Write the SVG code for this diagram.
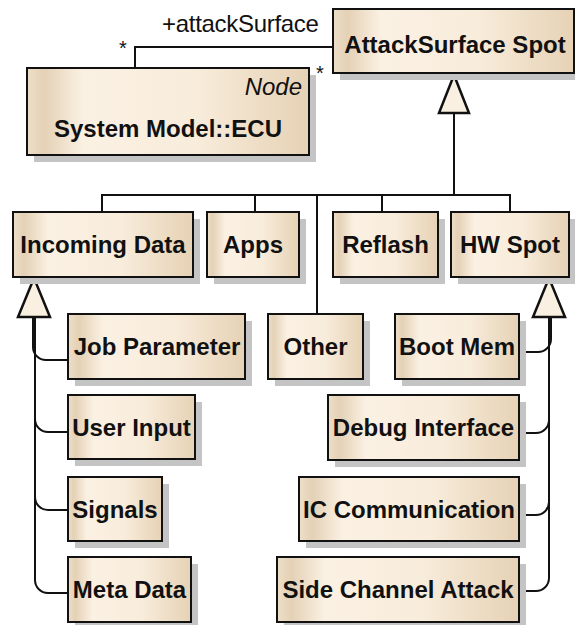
<svg xmlns="http://www.w3.org/2000/svg" width="575" height="625" viewBox="0 0 575 625">
<defs>
<linearGradient id="fill" x1="0" y1="0" x2="1" y2="0">
<stop offset="0" stop-color="#eddfc8"/>
<stop offset="0.06" stop-color="#e4d1b6"/>
<stop offset="0.2" stop-color="#fbf1e3"/>
<stop offset="0.6" stop-color="#f8ecdb"/>
<stop offset="1" stop-color="#e6d2b5"/>
</linearGradient>
</defs>
<style>
.box{fill:url(#fill);stroke:#111;stroke-width:2}
.sh{fill:#c4c4c4}
.t{font-family:"Liberation Sans",Arial,sans-serif;font-weight:bold;font-size:24px;fill:#111;text-anchor:middle}
.n{font-family:"Liberation Sans",Arial,sans-serif;font-size:24px;fill:#111}
.i{font-family:"Liberation Sans",Arial,sans-serif;font-style:italic;font-size:24px;fill:#111;text-anchor:end}
.c{fill:none;stroke:#111;stroke-width:2}
.tri{fill:#faf0e2;stroke:#111;stroke-width:2.5;stroke-linejoin:miter}
</style>
<g id="connectors">
<path class="c" d="M135,68 V47 H333"/>
<text class="n" x="162" y="32" style="letter-spacing:-0.3px">+attackSurface</text>
<text class="n" x="119" y="55" style="font-size:20px">*</text>
<text class="n" x="316" y="80" style="font-size:20px">*</text>
<path class="c" d="M454,113 V195"/>
<path class="c" d="M102,212 V195 H510 V212"/>
<path class="c" d="M255,195 V212"/>
<path class="c" d="M317,195 V314"/>
<path class="c" d="M382,195 V212"/>
<polygon class="tri" points="454,75 439,113 469,113"/>
<path class="c" d="M33,317 V347 A13,13 0 0 0 46,360 H68"/>
<path class="c" d="M35,317 V419 A13,13 0 0 0 48,432 H68"/>
<path class="c" d="M35,317 V497 A13,13 0 0 0 48,510 H68"/>
<path class="c" d="M35,317 V580 A13,13 0 0 0 48,593 H68"/>
<polygon class="tri" points="34,278 18,317 50,317"/>
<path class="c" d="M551,317 V339 A13,13 0 0 1 538,352 H519"/>
<path class="c" d="M549,317 V420 A13,13 0 0 1 536,433 H519"/>
<path class="c" d="M549,317 V502 A13,13 0 0 1 536,515 H519"/>
<path class="c" d="M549,317 V578 A13,13 0 0 1 536,591 H519"/>
<polygon class="tri" points="549,278 533,317 565,317"/>
</g>
<g id="attackSurfaceSpot">
<rect class="sh" x="340" y="16" width="241" height="64"/>
<rect class="box" x="333" y="9" width="241" height="64"/>
<text class="t" x="455" y="53">AttackSurface Spot</text>
</g>
<g id="ecu">
<rect class="sh" x="34" y="75" width="282" height="87"/>
<rect class="box" x="27" y="68" width="282" height="87"/>
<text class="i" x="302" y="95">Node</text>
<text class="t" x="168" y="137">System Model::ECU</text>
</g>
<g id="incomingData">
<rect class="sh" x="20" y="219" width="180" height="65"/>
<rect class="box" x="13" y="212" width="180" height="65"/>
<text class="t" x="103" y="253">Incoming Data</text>
</g>
<g id="apps">
<rect class="sh" x="214" y="219" width="92" height="65"/>
<rect class="box" x="207" y="212" width="92" height="65"/>
<text class="t" x="253" y="253">Apps</text>
</g>
<g id="reflash">
<rect class="sh" x="340" y="219" width="105" height="65"/>
<rect class="box" x="333" y="212" width="105" height="65"/>
<text class="t" x="385.5" y="253">Reflash</text>
</g>
<g id="hwSpot">
<rect class="sh" x="458" y="219" width="118" height="65"/>
<rect class="box" x="451" y="212" width="118" height="65"/>
<text class="t" x="510" y="253">HW Spot</text>
</g>
<g id="jobParameter">
<rect class="sh" x="75" y="321" width="177" height="65"/>
<rect class="box" x="68" y="314" width="177" height="65"/>
<text class="t" x="157" y="355">Job Parameter</text>
</g>
<g id="other">
<rect class="sh" x="275" y="321" width="95" height="65"/>
<rect class="box" x="268" y="314" width="95" height="65"/>
<text class="t" x="315.5" y="355">Other</text>
</g>
<g id="bootMem">
<rect class="sh" x="402" y="321" width="124" height="65"/>
<rect class="box" x="395" y="314" width="124" height="65"/>
<text class="t" x="457" y="355">Boot Mem</text>
</g>
<g id="userInput">
<rect class="sh" x="75" y="402" width="127" height="64"/>
<rect class="box" x="68" y="395" width="127" height="64"/>
<text class="t" x="131.5" y="436">User Input</text>
</g>
<g id="debugInterface">
<rect class="sh" x="335" y="402" width="191" height="65"/>
<rect class="box" x="328" y="395" width="191" height="65"/>
<text class="t" x="423.5" y="436">Debug Interface</text>
</g>
<g id="signals">
<rect class="sh" x="75" y="484" width="94" height="64"/>
<rect class="box" x="68" y="477" width="94" height="64"/>
<text class="t" x="115" y="518">Signals</text>
</g>
<g id="icCommunication">
<rect class="sh" x="306" y="484" width="220" height="64"/>
<rect class="box" x="299" y="477" width="220" height="64"/>
<text class="t" x="409" y="518">IC Communication</text>
</g>
<g id="metaData">
<rect class="sh" x="75" y="564" width="123" height="65"/>
<rect class="box" x="68" y="557" width="123" height="65"/>
<text class="t" x="129.5" y="598">Meta Data</text>
</g>
<g id="sideChannelAttack">
<rect class="sh" x="284" y="564" width="242" height="65"/>
<rect class="box" x="277" y="557" width="242" height="65"/>
<text class="t" x="398" y="598">Side Channel Attack</text>
</g>
</svg>
